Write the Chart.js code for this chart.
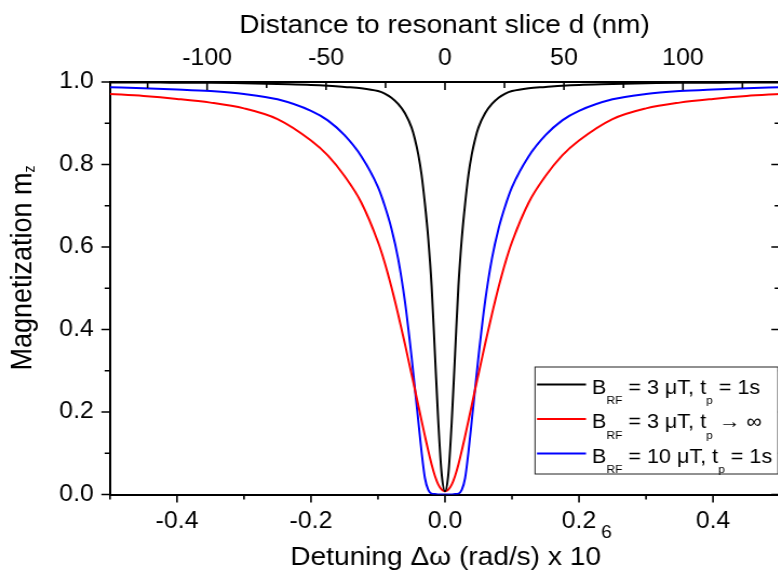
<!DOCTYPE html>
<html>
<head>
<meta charset="utf-8">
<title>Magnetization vs detuning</title>
<script src="https://cdn.jsdelivr.net/npm/chart.js@4.4.1/dist/chart.umd.min.js"></script>
<style>
  html, body { margin: 0; padding: 0; background: #fff; overflow: hidden; }
  #chart { display: block; }
</style>
</head>
<body>
<!-- the figure's lettering is a little wide, so the canvas is stretched sideways -->
<canvas id="chart" width="724" height="581" style="width: 782px; height: 581px;"></canvas>
<script>
// 失谐量 Δω (x 10^6 rad/s)
const detuning = [
  -0.5, -0.45, -0.4, -0.35, -0.3, -0.25, -0.2, -0.175, -0.15, -0.125, -0.1, -0.09, -0.08,
  -0.07, -0.06, -0.05, -0.045, -0.04, -0.035, -0.03, -0.025, -0.02, -0.015, -0.01, -0.005,
  0,
  0.005, 0.01, 0.015, 0.02, 0.025, 0.03, 0.035, 0.04, 0.045, 0.05, 0.06, 0.07,
  0.08, 0.09, 0.1, 0.125, 0.15, 0.175, 0.2, 0.25, 0.3, 0.35, 0.4, 0.45, 0.5
];

// m_z, B_RF = 3 uT, t_p = 1 s
const mzB3tp1 = [
  0.999, 0.999, 0.998, 0.998, 0.997, 0.995, 0.993, 0.991, 0.988, 0.985, 0.978, 0.972, 0.962,
  0.947, 0.925, 0.890, 0.862, 0.825, 0.775, 0.705, 0.620, 0.505, 0.340, 0.175, 0.050,
  0.008,
  0.050, 0.175, 0.340, 0.505, 0.620, 0.705, 0.775, 0.825, 0.862, 0.890, 0.925, 0.947,
  0.962, 0.972, 0.978, 0.985, 0.988, 0.991, 0.993, 0.995, 0.997, 0.998, 0.998, 0.999, 0.999
];

// m_z, B_RF = 3 uT, t_p -> infinity
const mzB3tpInf = [
  0.971, 0.966, 0.959, 0.950, 0.936, 0.910, 0.858, 0.822, 0.772, 0.708, 0.612, 0.562, 0.503,
  0.437, 0.366, 0.292, 0.255, 0.217, 0.179, 0.142, 0.106, 0.073, 0.045, 0.024, 0.012,
  0.008,
  0.012, 0.024, 0.045, 0.073, 0.106, 0.142, 0.179, 0.217, 0.255, 0.292, 0.366, 0.437,
  0.503, 0.562, 0.612, 0.708, 0.772, 0.822, 0.858, 0.910, 0.936, 0.950, 0.959, 0.966, 0.971
];

// m_z, B_RF = 10 uT, t_p = 1 s
const mzB10tp1 = [
  0.987, 0.985, 0.982, 0.978, 0.971, 0.958, 0.930, 0.907, 0.871, 0.820, 0.745, 0.700, 0.645,
  0.572, 0.470, 0.335, 0.258, 0.180, 0.103, 0.040, 0.011, 0.002, 0.001, 0.000, 0.000,
  0.000,
  0.000, 0.000, 0.001, 0.002, 0.011, 0.040, 0.103, 0.180, 0.258, 0.335, 0.470, 0.572,
  0.645, 0.700, 0.745, 0.820, 0.871, 0.907, 0.930, 0.958, 0.971, 0.978, 0.982, 0.985, 0.987
];

const seriesLabels = [
  'B_{RF} = 3 μT, t_{p} = 1s',
  'B_{RF} = 3 μT, t_{p} → ∞',
  'B_{RF} = 10 μT, t_{p} = 1s'
];
const seriesColors = ['#000000', '#ff0000', '#0000ff'];

// 坐标轴刻度
const xTicks = [-0.4, -0.2, 0, 0.2, 0.4];
const xTickLabels = ['-0.4', '-0.2', '0.0', '0.2', '0.4'];
const xMinorTicks = [-0.5, -0.3, -0.1, 0.1, 0.3, 0.5];
const yTicks = [0, 0.2, 0.4, 0.6, 0.8, 1.0];
const yTickLabels = ['0.0', '0.2', '0.4', '0.6', '0.8', '1.0'];
const yMinorTicks = [0.1, 0.3, 0.5, 0.7, 0.9];
const dTicks = [-100, -50, 0, 50, 100];
const dTickLabels = ['-100', '-50', '0', '50', '100'];
const dMinorTicks = [-125, -75, -25, 25, 75, 125];
const dLimit = 140.8; // nm at |Δω| = 0.5 x 10^6 rad/s

const FONT = '"Liberation Sans", Arial, sans-serif';
const canvas = document.getElementById('chart');
const SX = 782 / canvas.width;       // sideways stretch of the canvas
const px = x => x / SX;              // page x -> canvas x

Chart.defaults.font.family = FONT;
Chart.defaults.color = '#000';

// text with _{sub} and ^{sup} parts
function richParts(text) {
  const parts = [];
  const re = /([_^])\{([^}]*)\}/g;
  let last = 0, m;
  while ((m = re.exec(text)) !== null) {
    if (m.index > last) parts.push({t: text.slice(last, m.index), k: ''});
    parts.push({t: m[2], k: m[1]});
    last = re.lastIndex;
  }
  if (last < text.length) parts.push({t: text.slice(last), k: ''});
  return parts;
}

function drawRich(ctx, text, x, y, o) {
  const parts = richParts(text);
  const fontFor = k => (k ? o.small : o.size) + 'px ' + FONT;
  let width = 0;
  parts.forEach(p => { ctx.font = fontFor(p.k); p.w = ctx.measureText(p.t).width; width += p.w; });
  let cx = o.align === 'center' ? x - width / 2 : x;
  ctx.textBaseline = 'alphabetic';
  ctx.textAlign = 'left';
  parts.forEach(p => {
    ctx.font = fontFor(p.k);
    const dy = p.k === '_' ? o.subShift : (p.k === '^' ? -o.supShift : 0);
    ctx.fillText(p.t, cx, y + dy);
    cx += p.w;
  });
}

function tickMarks(ctx, scale, values, edge, len) {
  ctx.beginPath();
  values.forEach(v => {
    const p = scale.getPixelForValue(v);
    if (scale.isHorizontal()) {
      ctx.moveTo(p, edge);
      ctx.lineTo(p, edge + len);
    } else {
      ctx.moveTo(edge, p);
      ctx.lineTo(edge + len, p);
    }
  });
  ctx.stroke();
}

const decor = {
  id: 'decor',
  afterDraw(chart) {
    const {ctx, chartArea: a, scales} = chart;
    ctx.save();
    ctx.strokeStyle = '#000';
    ctx.lineWidth = 1.6;
    // bottom & left point outward, top & right point inward
    tickMarks(ctx, scales.x, xTicks, a.bottom, 8);
    tickMarks(ctx, scales.x, xMinorTicks, a.bottom, 5);
    tickMarks(ctx, scales.x2, dTicks, a.top, 8);
    tickMarks(ctx, scales.x2, dMinorTicks, a.top, 6);
    tickMarks(ctx, scales.y, yTicks, a.left, -8);
    tickMarks(ctx, scales.y, yMinorTicks, a.left, -5);
    tickMarks(ctx, scales.y, yTicks, a.right, -8);
    tickMarks(ctx, scales.y, yMinorTicks, a.right, -5);

    // axis titles
    ctx.fillStyle = '#000';
    drawRich(ctx, 'Distance to resonant slice d (nm)', px(444.5), 33,
      {size: 26, small: 17, subShift: 4, supShift: 10, align: 'center'});
    drawRich(ctx, 'Detuning Δω (rad/s) x 10^{6}', px(451), 565,
      {size: 26, small: 18, subShift: 4, supShift: 27, align: 'center'});
    ctx.save();
    ctx.translate(px(31), 268);
    ctx.rotate(-Math.PI / 2);
    drawRich(ctx, 'Magnetization m_{z}', 0, 0,
      {size: 27, small: 14, subShift: 3, supShift: 10, align: 'center'});
    ctx.restore();

    // legend
    const bx0 = px(535), bx1 = px(778), by0 = 367, by1 = 474;
    ctx.fillStyle = '#fff';
    ctx.fillRect(bx0, by0, bx1 - bx0, by1 - by0);
    ctx.lineWidth = 1;
    ctx.strokeStyle = '#222';
    ctx.strokeRect(bx0, by0, bx1 - bx0, by1 - by0);
    chart.data.datasets.forEach((ds, i) => {
      const ly = 384.5 + i * 34.5;
      ctx.strokeStyle = ds.borderColor;
      ctx.lineWidth = 2;
      ctx.beginPath();
      ctx.moveTo(px(537), ly);
      ctx.lineTo(px(586), ly);
      ctx.stroke();
      ctx.fillStyle = '#000';
      drawRich(ctx, ds.label, px(592), 393.5 + i * 34.5,
        {size: 20, small: 11, subShift: 10.5, supShift: 8, align: 'left'});
    });
    ctx.restore();
  }
};

function makeSeries(values) {
  return detuning.map((x, i) => ({x: x, y: values[i]}));
}

const datasets = [mzB3tp1, mzB3tpInf, mzB10tp1].map((values, i) => ({
  label: seriesLabels[i],
  data: makeSeries(values),
  borderColor: seriesColors[i],
  borderWidth: 2,
  pointRadius: 0,
  fill: false,
  cubicInterpolationMode: 'monotone'
}));

const axisBorder = {display: true, color: '#000', width: 2};

new Chart(canvas.getContext('2d'), {
  type: 'line',
  data: {datasets: datasets},
  options: {
    responsive: false,
    animation: false,
    devicePixelRatio: 1,
    layout: {padding: 0},
    plugins: {legend: {display: false}, tooltip: {enabled: false}},
    scales: {
      x: {
        type: 'linear', position: 'bottom', min: -0.5, max: 0.5,
        afterBuildTicks: s => { s.ticks = xTicks.map(v => ({value: v})); },
        afterFit: s => { s.height = 581 - 494.5; },
        grid: {display: false, drawTicks: false},
        border: axisBorder,
        ticks: {padding: 13, maxRotation: 0, autoSkip: false, font: {size: 23},
                callback: (v, i) => xTickLabels[i]}
      },
      x2: {
        type: 'linear', position: 'top', min: -dLimit, max: dLimit,
        afterBuildTicks: s => { s.ticks = dTicks.map(v => ({value: v})); },
        afterFit: s => { s.height = 82; },
        grid: {display: false, drawTicks: false},
        border: axisBorder,
        ticks: {padding: 9.5, maxRotation: 0, autoSkip: false, font: {size: 23},
                callback: (v, i) => dTickLabels[i]}
      },
      y: {
        type: 'linear', position: 'left', min: 0, max: 1,
        afterBuildTicks: s => { s.ticks = yTicks.map(v => ({value: v})); },
        afterFit: s => { s.width = px(110); },
        grid: {display: false, drawTicks: false},
        border: axisBorder,
        ticks: {padding: 15, autoSkip: false, font: {size: 23},
                callback: (v, i) => yTickLabels[i]}
      },
      y2: {
        type: 'linear', position: 'right', min: 0, max: 1,
        afterFit: s => { s.width = canvas.width - px(780); },
        grid: {display: false, drawTicks: false},
        border: axisBorder,
        ticks: {display: false}
      }
    }
  },
  plugins: [decor]
});
</script>
</body>
</html>
